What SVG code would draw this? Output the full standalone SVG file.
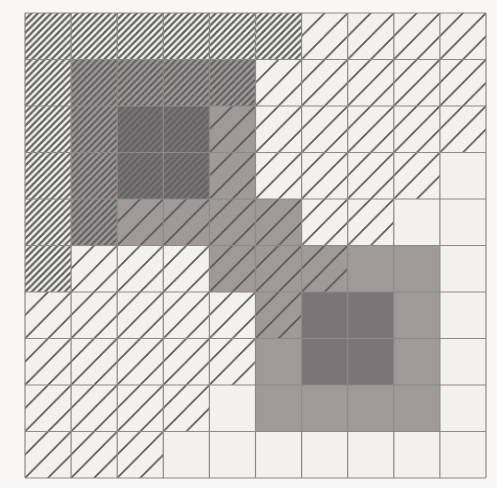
<svg xmlns="http://www.w3.org/2000/svg" width="497" height="488" viewBox="0 0 497 488">
  <style>
    .grid line { stroke: #8a8a86; stroke-width: 1.2; }
    .mid { fill: #9f9a99; }
    .dark { fill: #7b7577; }
  </style>
  <defs>
    <pattern id="sparse" patternUnits="userSpaceOnUse" x="25" y="13" width="23.05" height="23.25">
      <path d="M0,23.25 L23.05,0 M-11.525,11.625 L11.525,-11.625 M11.525,34.875 L34.575,11.625" stroke="#555555" stroke-width="1.6" fill="none"/>
    </pattern>
    <pattern id="dense" patternUnits="userSpaceOnUse" x="25" y="13" width="6.586" height="6.643">
      <path d="M0,6.643 L6.586,0 M-3.293,3.3215 L3.293,-3.3215 M3.293,9.9645 L9.879,3.3215" stroke="#626262" stroke-width="2.2" fill="none"/>
    </pattern>
  </defs>
  <rect x="0" y="0" width="497" height="488" fill="#f9f7f4"/>
  <rect id="field" x="25" y="13" width="461" height="465" fill="#f3f1ee"/>
  <g id="shading">
    <rect class="mid" x="71.1" y="59.5" width="184.4" height="186"/>
    <rect class="mid" x="255.5" y="199" width="46.1" height="46.5"/>
    <rect class="mid" x="209.4" y="245.5" width="46.1" height="46.5"/>
    <rect class="mid" x="255.5" y="245.5" width="184.4" height="186"/>
    <rect class="dark" x="117.2" y="106" width="92.2" height="93"/>
    <rect class="dark" x="301.6" y="292" width="92.2" height="93"/>
  </g>
  <g id="hatching">
    <path id="sparse-area" fill="url(#sparse)" fill-rule="evenodd" d="M25,13 L486,13 L486,152.5 L439.9,152.5 L439.9,199 L393.8,199 L393.8,245.5 L347.7,245.5 L347.7,292 L301.6,292 L301.6,338.5 L255.5,338.5 L255.5,385 L209.4,385 L209.4,431.5 L163.3,431.5 L163.3,478 L25,478 Z M25,13 L301.6,13 L301.6,59.5 L255.5,59.5 L255.5,106 L209.4,106 L209.4,199 L117.2,199 L117.2,245.5 L71.1,245.5 L71.1,292 L25,292 Z"/>
    <path id="dense-area" fill="url(#dense)" d="M25,13 L301.6,13 L301.6,59.5 L255.5,59.5 L255.5,106 L209.4,106 L209.4,199 L117.2,199 L117.2,245.5 L71.1,245.5 L71.1,292 L25,292 Z"/>
  </g>
  <g id="grid" class="grid">
    <line x1="25" y1="13" x2="25" y2="478"/>
    <line x1="71.1" y1="13" x2="71.1" y2="478"/>
    <line x1="117.2" y1="13" x2="117.2" y2="478"/>
    <line x1="163.3" y1="13" x2="163.3" y2="478"/>
    <line x1="209.4" y1="13" x2="209.4" y2="478"/>
    <line x1="255.5" y1="13" x2="255.5" y2="478"/>
    <line x1="301.6" y1="13" x2="301.6" y2="478"/>
    <line x1="347.7" y1="13" x2="347.7" y2="478"/>
    <line x1="393.8" y1="13" x2="393.8" y2="478"/>
    <line x1="439.9" y1="13" x2="439.9" y2="478"/>
    <line x1="486" y1="13" x2="486" y2="478"/>
    <line x1="25" y1="13" x2="486" y2="13"/>
    <line x1="25" y1="59.5" x2="486" y2="59.5"/>
    <line x1="25" y1="106" x2="486" y2="106"/>
    <line x1="25" y1="152.5" x2="486" y2="152.5"/>
    <line x1="25" y1="199" x2="486" y2="199"/>
    <line x1="25" y1="245.5" x2="486" y2="245.5"/>
    <line x1="25" y1="292" x2="486" y2="292"/>
    <line x1="25" y1="338.5" x2="486" y2="338.5"/>
    <line x1="25" y1="385" x2="486" y2="385"/>
    <line x1="25" y1="431.5" x2="486" y2="431.5"/>
    <line x1="25" y1="478" x2="486" y2="478"/>
  </g>
</svg>
